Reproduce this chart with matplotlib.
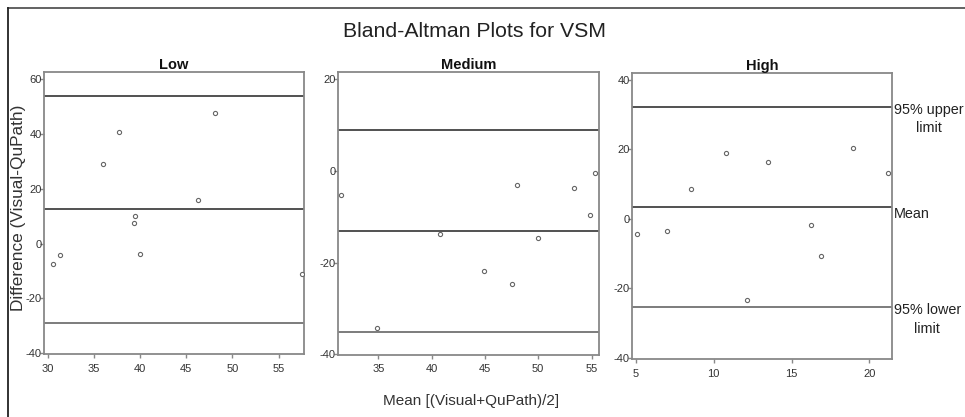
import matplotlib.pyplot as plt
import numpy as np
from matplotlib.lines import Line2D

plt.rcParams['font.family'] = ['Liberation Sans', 'DejaVu Sans']
plt.rcParams['axes.unicode_minus'] = False

# data
low_mean_x = [30.6, 31.3, 36.0, 37.7, 39.3, 39.4, 40.0, 46.3, 48.1, 57.5]
low_diff = [-7.5, -4.0, 29.1, 40.8, 7.4, 9.9, -3.8, 16.0, 47.5, -11.2]
low_limits = [53.9, 12.5, -28.9]   # upper, mean, lower

med_mean_x = [31.5, 34.85, 40.8, 44.9, 47.5, 48.0, 50.0, 53.4, 54.9, 55.35]
med_diff = [-5.2, -34.2, -13.8, -21.9, -24.6, -3.0, -14.6, -3.8, -9.5, -0.4]
med_limits = [8.85, -13.0, -35.2]

high_mean_x = [5.1, 7.0, 8.55, 10.8, 12.13, 13.5, 16.26, 16.9, 18.96, 21.2]
high_diff = [-4.5, -3.4, 8.7, 19.0, -23.4, 16.3, -1.8, -10.6, 20.5, 13.3]
high_limits = [32.3, 3.5, -25.4]

panels = [
    ('Low', low_mean_x, low_diff, low_limits, [30, 35, 40, 45, 50, 55], [-40, -20, 0, 20, 40, 60],
     (29.6, 57.75), (-40.3, 62.6), [0.0456, 0.1511, 0.2694, 0.6762]),
    ('Medium', med_mean_x, med_diff, med_limits, [35, 40, 45, 50, 55], [-40, -20, 0, 20],
     (31.2, 55.7), (-40.1, 21.6), [0.350, 0.1494, 0.2707, 0.6779]),
    ('High', high_mean_x, high_diff, high_limits, [5, 10, 15, 20], [-40, -20, 0, 20, 40],
     (4.74, 21.47), (-40.4, 42.1), [0.6546, 0.139, 0.2701, 0.6867]),
]

fig = plt.figure(figsize=(9.65, 4.17), dpi=100)

line_cols = ['#333333', '#333333', '#666666']

for name, xs, ys, lims, xt, yt, xl, yl, pos in panels:
    ax = fig.add_axes(pos)
    for v, c in zip(lims, line_cols):
        ax.axhline(v, color=c, linewidth=1.2, zorder=1)
    ax.scatter(xs, ys, s=9, facecolors='white', edgecolors='#666666', linewidths=0.8, zorder=3)
    ax.set_xlim(*xl)
    ax.set_ylim(*yl)
    ax.set_xticks(xt)
    ax.set_yticks(yt)
    ax.tick_params(length=3, width=1, color='#888888', labelcolor='#333333', labelsize=8)
    ax.tick_params(axis='x', pad=4)
    ax.tick_params(axis='y', pad=-1.5)
    for s in ax.spines.values():
        s.set_color('#888888')
        s.set_linewidth(1.3)
    ax.set_title(name, fontsize=10.5, fontweight='bold', pad=1.5, color='#111111')
    if name == 'High':
        tr = ax.get_yaxis_transform()
        ax.annotate('95% upper\nlimit', (1.0, lims[0]), xycoords=tr, xytext=(1.0, -9),
                    textcoords='offset points', ha='left', va='center', fontsize=10.4,
                    color='#222222', multialignment='center', linespacing=1.4)
        ax.annotate('Mean', (1.0, lims[1]), xycoords=tr, xytext=(1.0, -5.5),
                    textcoords='offset points', ha='left', va='center', fontsize=10.4,
                    color='#222222')
        ax.annotate('95% lower\nlimit', (1.0, lims[2]), xycoords=tr, xytext=(1.0, -9),
                    textcoords='offset points', ha='left', va='center', fontsize=10.4,
                    color='#222222', multialignment='center', linespacing=1.4)

fig.text(0.4917, 1 - 37 / 417, 'Bland-Altman Plots for VSM', ha='center', va='baseline',
         fontsize=15.3, color='#222222')
fig.text(0.488, 1 - 405 / 417, 'Mean [(Visual+QuPath)/2]', ha='center', va='baseline',
         fontsize=11, color='#333333')
fig.text(19 / 965, 1 - 208 / 417, 'Difference (Visual-QuPath)', ha='center', va='center',
         rotation=90, fontsize=12.4, color='#333333')

# partial frame around the figure (top and left only)
fig.add_artist(Line2D([8 / 965, 1], [1 - 8 / 417, 1 - 8 / 417], transform=fig.transFigure,
                      color='#555555', linewidth=1.3))
fig.add_artist(Line2D([8 / 965, 8 / 965], [0, 1 - 8 / 417], transform=fig.transFigure,
                      color='#222222', linewidth=1.3))

fig.savefig('out.png', dpi=100)
